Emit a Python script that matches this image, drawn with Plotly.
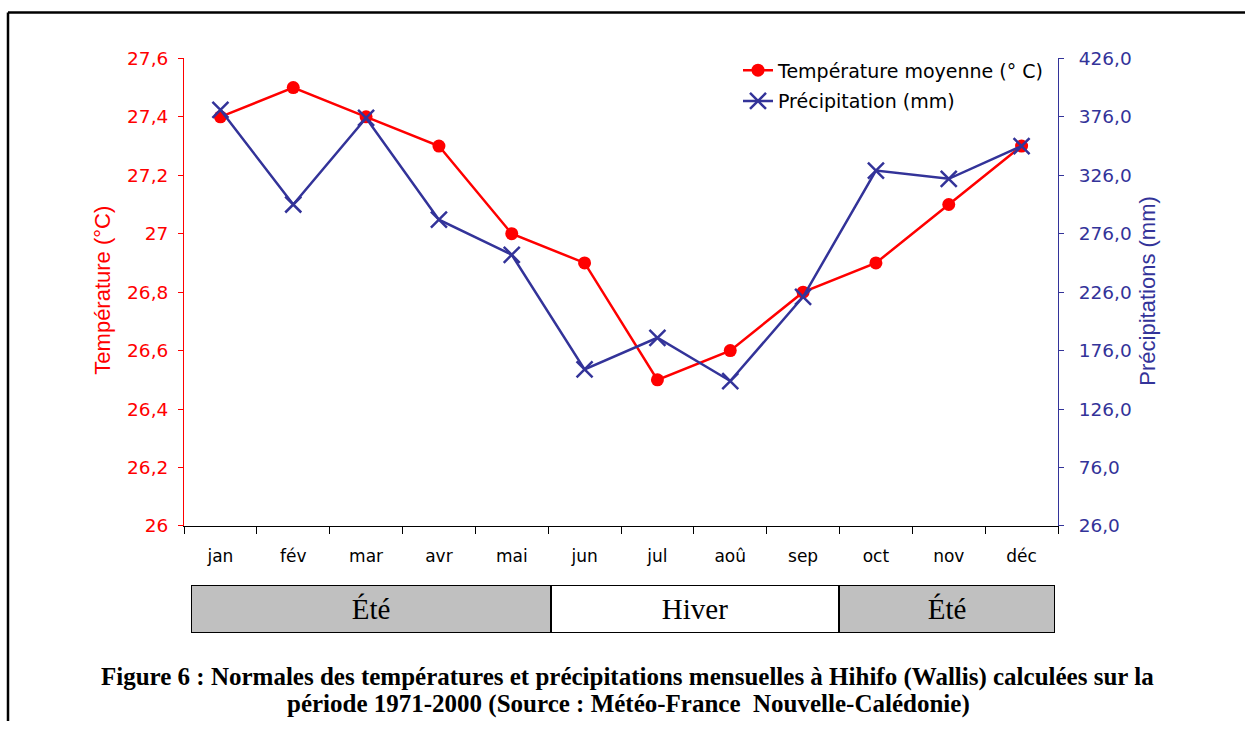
import plotly.graph_objects as go

W, H = 1245, 731

months = ["jan", "fév", "mar", "avr", "mai", "jun", "jul", "aoû", "sep", "oct", "nov", "déc"]
temperature = [27.4, 27.5, 27.4, 27.3, 27.0, 26.9, 26.5, 26.6, 26.8, 26.9, 27.1, 27.3]
precipitation = [382, 301, 375, 288, 258, 160, 187, 150, 222, 330, 323, 351]

temp_ticks = [26.0, 26.2, 26.4, 26.6, 26.8, 27.0, 27.2, 27.4, 27.6]
temp_ticklabels = ["26", "26,2", "26,4", "26,6", "26,8", "27", "27,2", "27,4", "27,6"]
precip_ticks = [26, 76, 126, 176, 226, 276, 326, 376, 426]
precip_ticklabels = ["26,0", "76,0", "126,0", "176,0", "226,0", "276,0", "326,0", "376,0", "426,0"]

seasons = ["Été", "Hiver", "Été"]
season_start = [0, 5, 9]
season_length = [5, 4, 3]
season_colors = ["#C0C0C0", "#FFFFFF", "#C0C0C0"]

RED = "#FF0000"
BLUE = "#333399"
SANS = "DejaVu Sans"
SANS2 = "Liberation Sans"
SERIF = "Liberation Serif"

# observed vertical placement of the figure in the photographed page
TOP_OFF = 10.7
VSCALE = 0.970


def px_x(p):
    return p / W


def px_y(t):
    return 1 - (t - TOP_OFF) / (VSCALE * H)


fig = go.Figure()

fig.add_trace(go.Scatter(
    x=months, y=temperature, name="Température moyenne (° C)",
    mode="lines+markers", line=dict(color=RED, width=2.5),
    marker=dict(symbol="circle", size=13, color=RED),
    xaxis="x", yaxis="y", legendgroup="t",
))
fig.add_trace(go.Scatter(
    x=months, y=precipitation, name="Précipitation (mm)",
    mode="lines+markers", line=dict(color=BLUE, width=2.5),
    marker=dict(symbol="x-thin", size=16, color=BLUE, line=dict(color=BLUE, width=2.5)),
    xaxis="x", yaxis="y2", legendgroup="p",
))

# season band
fig.add_trace(go.Bar(
    y=[0.5] * len(seasons), x=season_length, base=season_start, orientation="h",
    width=1, marker=dict(color=season_colors, line=dict(color="black", width=2)),
    text=seasons, textposition="inside", insidetextanchor="middle",
    textfont=dict(family=SERIF, size=29, color="black"), textangle=0,
    xaxis="x2", yaxis="y5", showlegend=False, hoverinfo="skip",
))

plot_dom_x = [px_x(184), px_x(1058)]
plot_dom_y = [px_y(525), px_y(58)]

fig.update_layout(
    width=W, height=H, margin=dict(l=0, r=0, t=0, b=0),
    paper_bgcolor="white", plot_bgcolor="rgba(0,0,0,0)",
    barmode="overlay", bargap=0,
    xaxis=dict(
        domain=plot_dom_x, type="category", range=[-0.5, 11.5], anchor="y",
        showline=True, linecolor="black", linewidth=1, ticks="outside",
        tickson="boundaries", ticklen=7, tickcolor="black", tickwidth=1,
        tickfont=dict(family=SANS, size=17, color="black"), showgrid=False,
        ticklabelstandoff=15, zeroline=False,
    ),
    yaxis=dict(
        domain=plot_dom_y, range=[26, 27.6], anchor="x",
        tickvals=temp_ticks, ticktext=temp_ticklabels,
        showline=True, linecolor=RED, linewidth=1, ticks="outside", ticklen=5,
        tickcolor=RED, tickfont=dict(family=SANS, size=18.5, color=RED),
        showgrid=False, zeroline=False, ticklabelstandoff=6,
    ),
    yaxis3=dict(
        domain=plot_dom_y, range=[26, 27.6], anchor="x", overlaying="y",
        tickvals=temp_ticks, showticklabels=False, ticks="inside", ticklen=5,
        tickcolor=RED, showgrid=False, zeroline=False, showline=False,
    ),
    yaxis2=dict(
        domain=plot_dom_y, range=[26, 426], anchor="x", overlaying="y", side="right",
        tickvals=precip_ticks, ticktext=precip_ticklabels,
        showline=True, linecolor=BLUE, linewidth=1, ticks="outside", ticklen=5,
        tickcolor=BLUE, tickfont=dict(family=SANS, size=18.5, color=BLUE),
        showgrid=False, zeroline=False, ticklabelstandoff=11,
    ),
    yaxis4=dict(
        domain=plot_dom_y, range=[26, 426], anchor="x", overlaying="y", side="right",
        tickvals=precip_ticks, showticklabels=False, ticks="inside", ticklen=5,
        tickcolor=BLUE, showgrid=False, zeroline=False, showline=False,
    ),
    xaxis2=dict(domain=[px_x(191), px_x(1055)], range=[0, 12], anchor="y5", visible=False),
    yaxis5=dict(domain=[px_y(632), px_y(584)], range=[0, 1], anchor="x2", visible=False),
    legend=dict(
        x=px_x(738), y=px_y(51), xanchor="left", yanchor="top",
        bgcolor="rgba(0,0,0,0)", font=dict(family=SANS, size=19, color="black"),
        traceorder="grouped", tracegroupgap=3,
    ),
    showlegend=True,
)

# axis titles
fig.add_annotation(
    text="Température (°C)", x=px_x(103), y=px_y(290), xref="paper", yref="paper",
    textangle=-90, showarrow=False, font=dict(family=SANS2, size=22, color=RED),
    xanchor="center", yanchor="middle",
)
fig.add_annotation(
    text="Précipitations (mm)", x=px_x(1148), y=px_y(291), xref="paper", yref="paper",
    textangle=-90, showarrow=False, font=dict(family=SANS2, size=22, color=BLUE),
    xanchor="center", yanchor="middle",
)

# caption
fig.add_annotation(
    text="<b>Figure 6 : Normales des températures et précipitations mensuelles à Hihifo (Wallis) calculées sur la</b>",
    x=px_x(627), y=px_y(676), xref="paper", yref="paper", showarrow=False,
    font=dict(family=SERIF, size=25, color="black"), xanchor="center", yanchor="middle",
)
fig.add_annotation(
    text="<b>période 1971-2000 (Source : Météo-France\u00a0 Nouvelle-Calédonie)</b>",
    x=px_x(628), y=px_y(703), xref="paper", yref="paper", showarrow=False,
    font=dict(family=SERIF, size=25, color="black"), xanchor="center", yanchor="middle",
)

# page frame (top and left edges)
frame_top = min(px_y(7), 0.998)
fig.add_shape(type="line", xref="paper", yref="paper", x0=px_x(8), x1=1, y0=frame_top, y1=frame_top,
              line=dict(color="black", width=2.5))
fig.add_shape(type="line", xref="paper", yref="paper", x0=px_x(8), x1=px_x(8), y0=frame_top, y1=0,
              line=dict(color="black", width=2.5))

fig.write_html(
    "out.html",
    config={"displayModeBar": False},
    post_script=(
        "document.body.style.margin='0';document.body.style.overflow='hidden';"
        "var d=document.getElementById('{plot_id}');"
        "d.style.position='fixed';d.style.top='0px';d.style.left='0px';"
    ),
)
